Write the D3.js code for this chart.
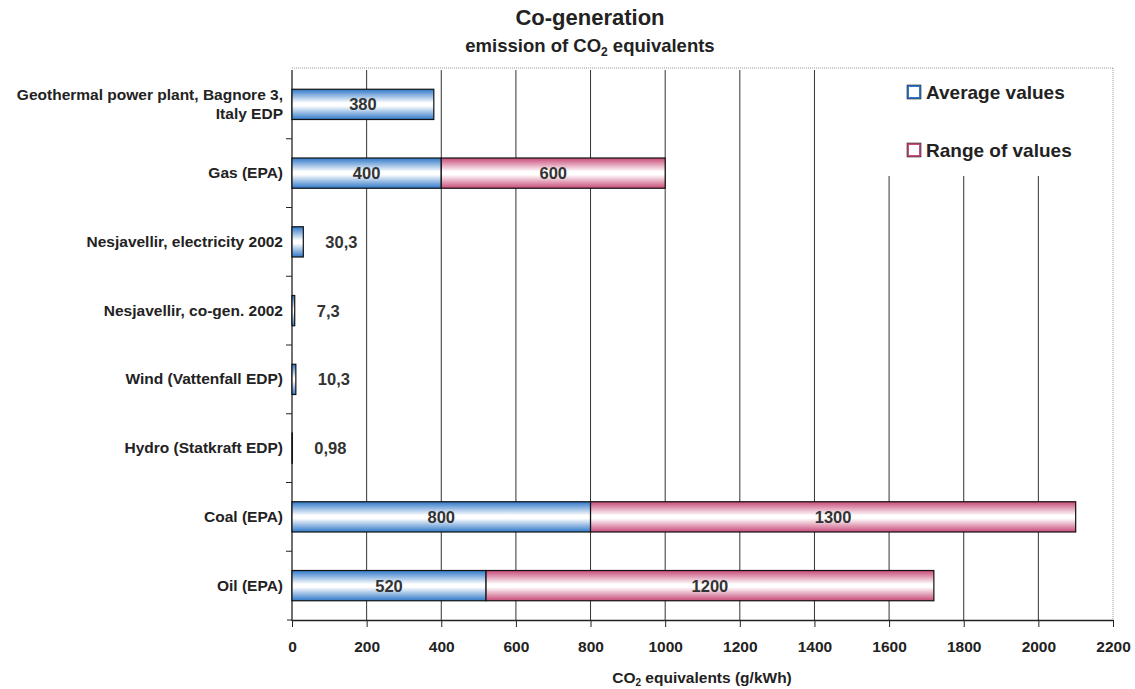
<!DOCTYPE html>
<html>
<head>
<meta charset="utf-8">
<script src="https://cdn.jsdelivr.net/npm/d3@7"></script>
<style>
  body { margin: 0; background: #fff; }
  svg { font-family: "Liberation Sans", Arial, sans-serif; font-weight: bold; }
</style>
</head>
<body>
<svg width="1135" height="689"></svg>
<script>
// data
const categories = [
  'Geothermal power plant, Bagnore 3,|Italy EDP',
  'Gas (EPA)',
  'Nesjavellir, electricity 2002',
  'Nesjavellir, co-gen. 2002',
  'Wind (Vattenfall EDP)',
  'Hydro (Statkraft EDP)',
  'Coal (EPA)',
  'Oil (EPA)'
];
const averageValues = [380, 400, 30.3, 7.3, 10.3, 0.98, 800, 520];
const rangeValues = [0, 600, 0, 0, 0, 0, 1300, 1200];
const xTicks = [0, 200, 400, 600, 800, 1000, 1200, 1400, 1600, 1800, 2000, 2200];

const svg = d3.select('svg');
const margin = { left: 292, right: 22, top: 70, bottom: 69 };
const W = 1135, H = 689;

const x = d3.scaleLinear().domain([0, 2200]).range([margin.left, W - margin.right]);
const y = d3.scaleBand().domain(categories).range([margin.top, H - margin.bottom]).paddingInner(0.56).paddingOuter(0.28);
const band = d3.scaleBand().domain(categories).range([margin.top, H - margin.bottom]);

const fmt = v => String(v).replace('.', ',');

// gradients
const defs = svg.append('defs');
function grad(id, edge) {
  const g = defs.append('linearGradient').attr('id', id).attr('x1', 0).attr('y1', 0).attr('x2', 0).attr('y2', 1);
  g.append('stop').attr('offset', '0%').attr('stop-color', edge);
  g.append('stop').attr('offset', '45%').attr('stop-color', '#fff');
  g.append('stop').attr('offset', '55%').attr('stop-color', '#fff');
  g.append('stop').attr('offset', '100%').attr('stop-color', edge);
}
grad('gBlue', '#2f78c8');
grad('gPink', '#c84a78');

// plot frame (dotted top and right)
svg.append('line').attr('x1', margin.left).attr('x2', W - margin.right)
  .attr('y1', margin.top - 2).attr('y2', margin.top - 2)
  .attr('stroke', '#999').attr('stroke-dasharray', '1,1');
svg.append('line').attr('x1', W - margin.right).attr('x2', W - margin.right)
  .attr('y1', margin.top - 2).attr('y2', H - margin.bottom)
  .attr('stroke', '#999').attr('stroke-dasharray', '1,1');

// gridlines
svg.append('g').selectAll('line').data(xTicks.slice(1, -1)).join('line')
  .attr('x1', d => x(d)).attr('x2', d => x(d))
  .attr('y1', margin.top).attr('y2', H - margin.bottom)
  .attr('stroke', '#333').attr('stroke-width', 1);

// legend box hides gridlines underneath
svg.append('rect').attr('x', 870).attr('y', margin.top - 1).attr('width', 242).attr('height', 107).attr('fill', '#fff');

// x axis
const xAxis = svg.append('g').attr('transform', `translate(0,${H - margin.bottom})`)
  .call(d3.axisBottom(x).tickValues(xTicks).tickFormat(d3.format('d')).tickSize(7).tickSizeOuter(0));
xAxis.select('.domain').attr('stroke', '#222').attr('stroke-width', 1.3);
xAxis.selectAll('.tick line').attr('stroke', '#222');
xAxis.selectAll('text').attr('font-size', 15.5).attr('font-weight', 'bold')
  .attr('fill', '#222').attr('font-family', '"Liberation Sans", Arial, sans-serif').attr('dy', '1.45em');

// y axis line + ticks between categories
svg.append('line').attr('x1', margin.left).attr('x2', margin.left)
  .attr('y1', margin.top).attr('y2', H - margin.bottom + 1).attr('stroke', '#222').attr('stroke-width', 1.3);
svg.append('line').attr('x1', margin.left - 5).attr('x2', margin.left)
  .attr('y1', H - margin.bottom).attr('y2', H - margin.bottom).attr('stroke', '#222');
svg.append('g').selectAll('line').data(categories.slice(1)).join('line')
  .attr('x1', margin.left - 6).attr('x2', margin.left)
  .attr('y1', d => band(d)).attr('y2', d => band(d)).attr('stroke', '#222');

// category labels
const catG = svg.append('g');
categories.forEach(c => {
  const lines = c.split('|');
  const cy = band(c) + band.bandwidth() / 2;
  const t = catG.append('text').attr('text-anchor', 'end').attr('font-size', 15.5).attr('fill', '#222')
    .attr('y', cy - (lines.length - 1) * 9 + 5);
  lines.forEach((l, i) => t.append('tspan').attr('x', 283).attr('dy', i ? 19 : 0).text(l));
});

// bars
const rows = categories.map((c, i) => ({ c, avg: averageValues[i], rng: rangeValues[i] }));
const bars = svg.append('g');
bars.selectAll('rect.avg').data(rows).join('rect').attr('class', 'avg')
  .attr('x', x(0)).attr('y', d => y(d.c))
  .attr('width', d => x(d.avg) - x(0)).attr('height', y.bandwidth())
  .attr('fill', 'url(#gBlue)').attr('stroke', '#111').attr('stroke-width', 1.2);
bars.selectAll('rect.rng').data(rows.filter(d => d.rng > 0)).join('rect').attr('class', 'rng')
  .attr('x', d => x(d.avg)).attr('y', d => y(d.c))
  .attr('width', d => x(d.avg + d.rng) - x(d.avg)).attr('height', y.bandwidth())
  .attr('fill', 'url(#gPink)').attr('stroke', '#111').attr('stroke-width', 1.2);

// value labels
const lab = svg.append('g').attr('font-size', 16.5).attr('fill', '#333');
rows.forEach(d => {
  const cy = y(d.c) + y.bandwidth() / 2 + 6;
  if (d.avg >= 100) {
    lab.append('text').attr('x', (x(0) + x(d.avg)) / 2).attr('y', cy).attr('text-anchor', 'middle').text(fmt(d.avg));
  } else {
    lab.append('text').attr('x', x(d.avg) + 22).attr('y', cy).attr('text-anchor', 'start').text(fmt(d.avg));
  }
  if (d.rng > 0) {
    lab.append('text').attr('x', (x(d.avg) + x(d.avg + d.rng)) / 2).attr('y', cy).attr('text-anchor', 'middle').text(fmt(d.rng));
  }
});

// legend
const legend = [{ name: 'Average values', color: '#2f78c8' }, { name: 'Range of values', color: '#c84a78' }];
const lg = svg.append('g');
legend.forEach((l, i) => {
  const ly = 92 + i * 58;
  lg.append('rect').attr('x', 908).attr('y', ly - 6).attr('width', 12).attr('height', 12)
    .attr('fill', '#fff').attr('stroke', l.color).attr('stroke-width', 2);
  lg.append('rect').attr('x', 907).attr('y', ly - 7).attr('width', 14).attr('height', 14)
    .attr('fill', 'none').attr('stroke', '#222').attr('stroke-width', 0.6);
  lg.append('text').attr('x', 926).attr('y', ly + 7).attr('font-size', 19).attr('fill', '#222').text(l.name);
});

// titles
const cx = 590;
svg.append('text').attr('x', cx).attr('y', 25).attr('text-anchor', 'middle').attr('font-size', 22).attr('fill', '#222').text('Co-generation');
const sub = svg.append('text').attr('x', cx).attr('y', 52).attr('text-anchor', 'middle').attr('font-size', 18.5).attr('fill', '#222');
sub.append('tspan').text('emission of CO');
sub.append('tspan').attr('font-size', 12).attr('dy', 4).text('2');
sub.append('tspan').attr('dy', -4).text(' equivalents');

const xt = svg.append('text').attr('x', 702).attr('y', 683).attr('text-anchor', 'middle').attr('font-size', 15.5).attr('fill', '#222');
xt.append('tspan').text('CO');
xt.append('tspan').attr('font-size', 10).attr('dy', 3).text('2');
xt.append('tspan').attr('dy', -3).text(' equivalents (g/kWh)');
</script>
</body>
</html>
